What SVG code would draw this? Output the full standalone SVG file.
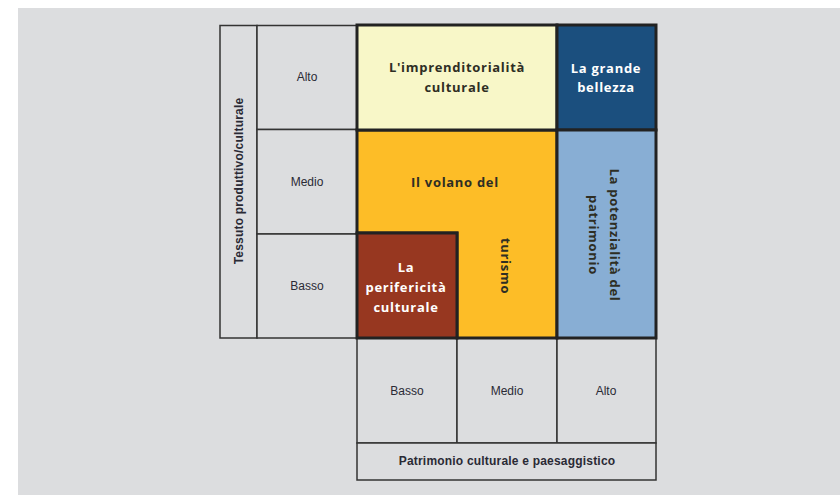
<svg xmlns="http://www.w3.org/2000/svg" width="840" height="495" viewBox="0 0 840 495">
<style>
.lbl{font-family:"Liberation Sans",Arial,sans-serif;font-size:12px;fill:#2a2a35;text-anchor:middle}
.ax{font-weight:bold;letter-spacing:0.2px}
.ttl{font-family:"Open Sans","Liberation Sans",sans-serif;font-size:13px;font-weight:bold;text-anchor:middle;letter-spacing:0.7px}
.dark{fill:#2e2e24}
.light{fill:#ffffff}
.cell{fill:#dcdddf;stroke:#333;stroke-width:1.5}
.zone{stroke:#222;stroke-width:3}
</style>
<rect x="0" y="0" width="840" height="495" fill="#ffffff"/>
<rect x="18" y="8" width="822" height="487" fill="#dcdddf"/>

<g id="axis-y">
  <rect class="cell" x="220" y="25.5" width="37" height="312.5"/>
  <text class="lbl ax" transform="translate(242.5,181) rotate(-90)">Tessuto produttivo/culturale</text>
</g>
<g id="row-alto">
  <rect class="cell" x="257" y="25.5" width="100" height="104"/>
  <text class="lbl" x="307" y="81">Alto</text>
</g>
<g id="row-medio">
  <rect class="cell" x="257" y="129.5" width="100" height="104.5"/>
  <text class="lbl" x="307" y="186">Medio</text>
</g>
<g id="row-basso">
  <rect class="cell" x="257" y="234" width="100" height="104"/>
  <text class="lbl" x="307" y="290">Basso</text>
</g>
<g id="col-basso">
  <rect class="cell" x="357" y="338" width="100" height="105"/>
  <text class="lbl" x="407" y="395">Basso</text>
</g>
<g id="col-medio">
  <rect class="cell" x="457" y="338" width="100" height="105"/>
  <text class="lbl" x="507" y="395">Medio</text>
</g>
<g id="col-alto">
  <rect class="cell" x="557" y="338" width="99" height="105"/>
  <text class="lbl" x="606" y="395">Alto</text>
</g>
<g id="axis-x">
  <rect class="cell" x="357" y="443" width="299" height="37"/>
  <text class="lbl ax" x="507" y="465">Patrimonio culturale e paesaggistico</text>
</g>

<g id="volano">
  <path class="zone" d="M357,130 H557 V338 H457 V233 H357 Z" fill="#fdbd27"/>
  <text class="ttl dark" x="455" y="187">Il volano del</text>
  <text class="ttl dark" transform="translate(500.5,266) rotate(90)">turismo</text>
</g>
<g id="imprenditorialita">
  <rect class="zone" x="357" y="25" width="200" height="105" fill="#f8f7c8"/>
  <text class="ttl dark" x="457" y="72">L'imprenditorialità</text>
  <text class="ttl dark" x="457" y="92">culturale</text>
</g>
<g id="grande-bellezza">
  <rect class="zone" x="557" y="25" width="99" height="105" fill="#1b4f7e"/>
  <text class="ttl light" x="606" y="73">La grande</text>
  <text class="ttl light" x="606" y="92">bellezza</text>
</g>
<g id="potenzialita">
  <rect class="zone" x="557" y="130" width="99" height="208" fill="#88aed4"/>
  <text class="ttl dark" transform="translate(610,235) rotate(90)">La potenzialità del</text>
  <text class="ttl dark" transform="translate(589,235) rotate(90)">patrimonio</text>
</g>
<g id="perifericita">
  <rect class="zone" x="357" y="233" width="100" height="105" fill="#973720"/>
  <text class="ttl light" x="406" y="272">La</text>
  <text class="ttl light" x="406" y="292">perifericità</text>
  <text class="ttl light" x="406" y="312">culturale</text>
</g>
<g id="connectors"></g>
</svg>
